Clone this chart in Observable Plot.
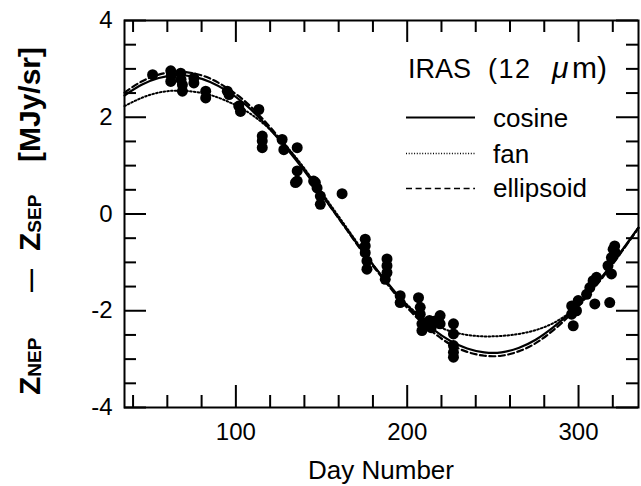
<!DOCTYPE html>
<html><head><meta charset="utf-8">
<script src="https://cdn.jsdelivr.net/npm/d3@7"></script>
<script src="https://cdn.jsdelivr.net/npm/@observablehq/plot@0.6"></script>
<style>body{margin:0;background:#fff} #chart{width:641px;height:486px}</style>
</head><body><div id="chart"></div>
<script>
// ---- data ----
const obsDay = [51.4, 62, 62.3, 62, 67.8, 68.8, 68.8, 68, 75.5, 75.5, 82.4, 82.4, 95, 96, 101.7, 102.7,
  113.4, 115.4, 115.4, 115.4, 127, 128, 135.8, 134.8, 135.8, 135.8, 145.4, 146.4, 147.4, 149.3, 149.3, 162,
  175.5, 175.5, 175.5, 176.5, 176.5, 188.2, 188.2, 188.2, 187.2, 195.9, 195.9,
  206.6, 207.6, 207.6, 208.6, 208.6, 213, 214, 216.3, 219.2, 219.2,
  227, 227, 227, 227, 227,
  296, 296, 296.9, 298.8, 299.8, 304.7, 306.6, 308.5, 309.5, 310.5,
  317.2, 319.2, 319.2, 320.2, 321.1, 321.5, 318.2];
const obsVal = [2.88, 2.96, 2.86, 2.74, 2.91, 2.67, 2.54, 2.78, 2.81, 2.71, 2.54, 2.40, 2.54, 2.47, 2.23, 2.12,
  2.16, 1.61, 1.51, 1.37, 1.54, 1.33, 1.37, 0.65, 0.89, 0.68, 0.68, 0.65, 0.54, 0.37, 0.20, 0.42,
  -0.52, -0.66, -0.80, -0.97, -1.14, -0.93, -1.07, -1.21, -1.35, -1.69, -1.83,
  -1.73, -1.93, -2.07, -2.27, -2.41, -2.20, -2.35, -2.21, -2.10, -2.27,
  -2.27, -2.48, -2.72, -2.86, -2.96,
  -1.90, -2.07, -2.31, -2.00, -1.79, -1.66, -1.52, -1.38, -1.86, -1.31,
  -1.07, -1.24, -0.90, -0.73, -0.66, -0.80, -1.83];

const curveDay = [35, 45, 55, 65, 75, 85, 95, 105, 115, 125, 135, 145, 155, 165, 175, 185, 195, 205, 215, 225,
  235, 245, 255, 265, 275, 285, 295, 305, 315, 325, 335];
const cosineVal = [2.45, 2.67, 2.81, 2.87, 2.84, 2.73, 2.54, 2.28, 1.94, 1.55, 1.12, 0.65, 0.16, -0.33, -0.82,
  -1.27, -1.70, -2.07, -2.38, -2.62, -2.78, -2.86, -2.86, -2.77, -2.60, -2.35, -2.04, -1.66, -1.24, -0.77, -0.28];
const fanVal = [2.23, 2.40, 2.51, 2.55, 2.53, 2.46, 2.33, 2.15, 1.90, 1.57, 1.17, 0.70, 0.20, -0.30, -0.80,
  -1.28, -1.70, -2.03, -2.27, -2.42, -2.50, -2.53, -2.52, -2.48, -2.40, -2.26, -2.03, -1.68, -1.25, -0.78, -0.28];
const ellipsoidVal = [2.51, 2.74, 2.88, 2.94, 2.91, 2.80, 2.60, 2.34, 1.99, 1.59, 1.15, 0.67, 0.16, -0.34, -0.84,
  -1.30, -1.74, -2.12, -2.44, -2.69, -2.85, -2.93, -2.93, -2.84, -2.67, -2.41, -2.09, -1.70, -1.27, -0.79, -0.29];

const seriesNames = ["cosine", "fan", "ellipsoid"];
const xTicksMajor = [100, 200, 300];
const xTicksMinor = [40, 60, 80, 120, 140, 160, 180, 220, 240, 260, 280, 320];
const yTicksMajor = [-4, -2, 0, 2, 4];
const yTicksMinor = [-3.5, -3, -2.5, -1.5, -1, -0.5, 0.5, 1, 1.5, 2.5, 3, 3.5];
const xDomain = [35, 335];
const yDomain = [-4, 4];
const xTitle = "Day Number";
const legendTitle = ["IRAS", "(12", "μ", "m)"];

// ---- layout ----
const W = 641, H = 486;
const M = {top: 20, right: 3, bottom: 79, left: 124};
const innerW = W - M.left - M.right, innerH = H - M.top - M.bottom;
const dUnitY = (yDomain[1] - yDomain[0]) / innerH;
const dUnitX = (xDomain[1] - xDomain[0]) / innerW;
const majorLen = 22, minorLen = 12;

const obs = obsDay.map((d, i) => ({day: d, val: obsVal[i]}));
const curveSets = [cosineVal, fanVal, ellipsoidVal];
const curves = seriesNames.flatMap((s, k) => curveDay.map((d, i) => ({series: s, day: d, val: curveSets[k][i]})));
const dashes = {cosine: null, fan: "1.6,2.2", ellipsoid: "6,3.5"};

const tickRulesX = (ticks, len) => [
  Plot.ruleX(ticks, {x: d => d, y1: yDomain[0], y2: yDomain[0] + len * dUnitY, stroke: "black", strokeWidth: 2}),
  Plot.ruleX(ticks, {x: d => d, y1: yDomain[1], y2: yDomain[1] - len * dUnitY, stroke: "black", strokeWidth: 2})
];
const tickRulesY = (ticks, len) => [
  Plot.ruleY(ticks, {y: d => d, x1: xDomain[0], x2: xDomain[0] + len * dUnitX, stroke: "black", strokeWidth: 2}),
  Plot.ruleY(ticks, {y: d => d, x1: xDomain[1], x2: xDomain[1] - len * dUnitX, stroke: "black", strokeWidth: 2})
];

const chart = Plot.plot({
  width: W, height: H,
  marginTop: M.top, marginRight: M.right, marginBottom: M.bottom, marginLeft: M.left,
  style: {fontFamily: "'Liberation Sans', Arial, Helvetica, sans-serif", fontSize: "24px", background: "white", color: "black"},
  x: {domain: xDomain, label: null},
  y: {domain: yDomain, label: null},
  marks: [
    ...seriesNames.map(s => Plot.line(curves.filter(c => c.series === s), {
      x: "day", y: "val", stroke: "black", strokeWidth: s === "fan" ? 2 : 2.2,
      strokeDasharray: dashes[s], curve: "natural"
    })),
    Plot.dot(obs, {x: "day", y: "val", r: 5.5, fill: "black", stroke: "none"}),
    ...tickRulesX(xTicksMajor, majorLen), ...tickRulesX(xTicksMinor, minorLen),
    ...tickRulesY(yTicksMajor, majorLen), ...tickRulesY(yTicksMinor, minorLen),
    Plot.frame({stroke: "black", strokeWidth: 2}),
    Plot.axisX({ticks: xTicksMajor, tickSize: 0, tickPadding: 15, tickFormat: d => String(d), label: null}),
    Plot.axisY({ticks: yTicksMajor, tickSize: 0, tickPadding: 12, tickFormat: d => String(d), label: null})
  ]
});
document.getElementById("chart").appendChild(chart);

const svg = d3.select(chart);
const ff = "'Liberation Sans', Arial, Helvetica, sans-serif";
// x title
svg.append("text").attr("x", (M.left + W - M.right) / 2).attr("y", 479).attr("text-anchor", "middle")
  .attr("font-family", ff).attr("font-size", 26).attr("fill", "black").text(xTitle);
// y title (rotated)
const g = svg.append("g").attr("transform", "translate(40,0) rotate(-90)")
  .attr("font-family", ff).attr("font-weight", "bold").attr("fill", "black").attr("text-anchor", "start");
const t1 = g.append("text").attr("x", -395).attr("y", 0).attr("font-size", 30);
t1.append("tspan").text("Z");
t1.append("tspan").attr("font-size", 19).attr("dy", 1).text("NEP");
g.append("text").attr("x", -292).attr("y", -2).attr("font-size", 23).text("—");
const t2 = g.append("text").attr("x", -251).attr("y", 0).attr("font-size", 30);
t2.append("tspan").text("Z");
t2.append("tspan").attr("font-size", 19).attr("dy", 1).text("SEP");
g.append("text").attr("x", -162).attr("y", 0).attr("font-size", 30).text("[MJy/sr]");

// legend
const lg = svg.append("g").attr("font-family", ff).attr("fill", "black").attr("text-anchor", "start");
const tt = lg.append("text").attr("y", 78).attr("font-size", 27);
tt.append("tspan").attr("x", 408).text(legendTitle[0]);
tt.append("tspan").attr("x", 488).attr("letter-spacing", 1.5).text(legendTitle[1]);
tt.append("tspan").attr("x", 552).attr("font-style", "italic").attr("font-size", 30).text(legendTitle[2]);
tt.append("tspan").attr("x", 572).attr("font-size", 30).text(legendTitle[3]);
const legY = [117.5, 153.5, 188.5];
const legBase = [127, 163, 197];
const legDash = {cosine: null, fan: "1,1.7", ellipsoid: "6,3.6"};
seriesNames.forEach((s, i) => {
  lg.append("line").attr("x1", 406).attr("x2", 475).attr("y1", legY[i]).attr("y2", legY[i])
    .attr("stroke", "black").attr("stroke-width", s === "cosine" ? 2.2 : (s === "fan" ? 1.3 : 1.6))
    .attr("stroke-dasharray", legDash[s]);
  lg.append("text").attr("x", 493).attr("y", legBase[i]).attr("font-size", 26).text(s);
});
</script>
</body></html>
